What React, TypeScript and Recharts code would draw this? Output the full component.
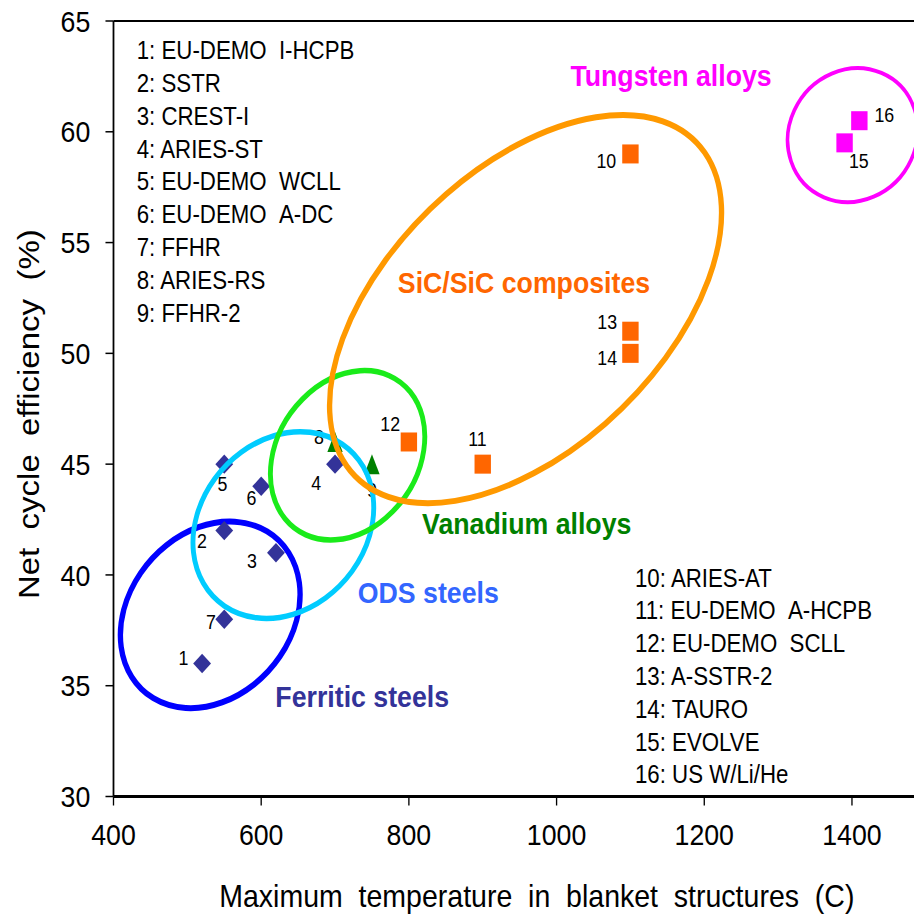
import React from "react";
import {
  ScatterChart,
  Scatter,
  XAxis,
  YAxis,
  ReferenceLine,
  ReferenceDot,
} from "recharts";

// ---------------- data ----------------
const ferriticIds = [1, 2, 3, 4, 5, 6, 7];
const ferriticTemp = [520, 550, 620, 700, 550, 600, 550];
const ferriticEff = [36, 42, 41, 45, 45, 44, 38];

const vanadiumIds = [8, 9];
const vanadiumTemp = [700, 750];
const vanadiumEff = [46, 45];

const sicIds = [10, 11, 12, 13, 14];
const sicTemp = [1100, 900, 800, 1100, 1100];
const sicEff = [59, 45, 46, 51, 50];

const tungstenIds = [15, 16];
const tungstenTemp = [1390, 1410];
const tungstenEff = [59.5, 60.5];

const xTicks = [400, 600, 800, 1000, 1200, 1400];
const yTicks = [30, 35, 40, 45, 50, 55, 60, 65];

const legendLeft = [
  "1: EU-DEMO  I-HCPB",
  "2: SSTR",
  "3: CREST-I",
  "4: ARIES-ST",
  "5: EU-DEMO  WCLL",
  "6: EU-DEMO  A-DC",
  "7: FFHR",
  "8: ARIES-RS",
  "9: FFHR-2",
];
const legendRight = [
  "10: ARIES-AT",
  "11: EU-DEMO  A-HCPB",
  "12: EU-DEMO  SCLL",
  "13: A-SSTR-2",
  "14: TAURO",
  "15: EVOLVE",
  "16: US W/Li/He",
];

const groupNames = [
  "Ferritic steels",
  "ODS steels",
  "Vanadium alloys",
  "SiC/SiC composites",
  "Tungsten alloys",
];
const groupCenterTemp = [531, 630, 717, 958, 1401];
const groupCenterEff = [38.2, 42.25, 45.4, 52.0, 59.85];

const xTitle = "Maximum  temperature  in  blanket  structures  (C)";
const yTitle = "Net  cycle  efficiency  (%)";

// ---------------- styles / layout ----------------
const W = 1026;
const H = 914;
const SX = 914 / W;
const FONT = "'Liberation Sans', Arial, Helvetica, sans-serif";

const keepSpaces = (s: string) => s.replace(/ {2}/g, " \u00A0");

const ringStyles = [
  { rx: 107.8, ry: 85.2, angle: -35.2, color: "#0000FF", width: 6 },
  { rx: 107, ry: 86.9, angle: -33, color: "#00CCFF", width: 5.5 },
  { rx: 94.7, ry: 75.6, angle: -42, color: "#1AEB1A", width: 5.5 },
  { rx: 254.8, ry: 145.4, angle: -37.9, color: "#FF9900", width: 6 },
  { rx: 74, ry: 65.9, angle: -20.9, color: "#FF00FF", width: 4 },
];

const groupLabelStyles = [
  { x: 406.6, y: 706.7, color: "#333399" },
  { x: 480.8, y: 603.3, color: "#3366FF" },
  { x: 591.3, y: 534.3, color: "#008000" },
  { x: 588.2, y: 293, color: "#FF6600" },
  { x: 753.3, y: 86, color: "#FF00FF" },
];

const labelOffset: Record<number, [number, number]> = {
  1: [-21, -6],
  2: [-25, 10],
  3: [-27, 8],
  4: [-21, 19],
  5: [-2, 20],
  6: [-11, 12],
  7: [-15, 3],
  8: [-18, -5],
  9: [0, 26],
  10: [-27, 7],
  11: [-6, -25],
  12: [-21, -18],
  13: [-26, -9],
  14: [-26, 5],
  15: [16, 18],
  16: [28, -6],
};

const build = (ids: number[], xs: number[], ys: number[]) =>
  ids.map((id, i) => ({ id, x: xs[i], y: ys[i] }));

const ferriticData = build(ferriticIds, ferriticTemp, ferriticEff);
const vanadiumData = build(vanadiumIds, vanadiumTemp, vanadiumEff);
const sicData = build(sicIds, sicTemp, sicEff);
const tungstenData = build(tungstenIds, tungstenTemp, tungstenEff);

const pointLabel = (cx: number, cy: number, id: number) => {
  const [dx, dy] = labelOffset[id] || [0, 0];
  return (
    <text
      x={cx + dx}
      y={cy + dy}
      dy="0.35em"
      textAnchor="middle"
      fontSize={20}
      fontFamily={FONT}
      fill="#000"
    >
      {id}
    </text>
  );
};

const makeShape = (kind: "diamond" | "triangle" | "square", color: string) =>
  (props: any) => {
    const { cx, cy, payload } = props;
    if (cx == null || cy == null) return <g />;
    let mark;
    if (kind === "diamond") {
      const hw = 10, hh = 9.7;
      mark = (
        <path
          d={`M${cx},${cy - hh}L${cx + hw},${cy}L${cx},${cy + hh}L${cx - hw},${cy}Z`}
          fill={color}
        />
      );
    } else if (kind === "triangle") {
      const hw = 8.6, hh = 10;
      mark = (
        <path
          d={`M${cx},${cy - hh}L${cx + hw},${cy + hh}L${cx - hw},${cy + hh}Z`}
          fill={color}
        />
      );
    } else {
      const hw = 9.2, hh = 9.5;
      mark = <rect x={cx - hw} y={cy - hh} width={hw * 2} height={hh * 2} fill={color} />;
    }
    return (
      <g>
        {mark}
        {pointLabel(cx, cy, payload.id)}
      </g>
    );
  };

const ringShape = (idx: number) => (props: any) => {
  const { cx, cy } = props;
  const s = ringStyles[idx];
  if (cx == null || cy == null) return <g />;
  return (
    <ellipse
      cx={cx}
      cy={cy}
      rx={s.rx}
      ry={s.ry}
      transform={`rotate(${s.angle} ${cx} ${cy})`}
      fill="none"
      stroke={s.color}
      strokeWidth={s.width}
    />
  );
};

const tickStyle = { fontSize: 30, fill: "#000", fontFamily: FONT };

export default function App() {
  return (
    <div>
      <style>{`body{margin:0;overflow:hidden;background:#fff}`}</style>
      <div
        style={{
          position: "absolute",
          left: 0,
          top: 0,
          width: W,
          height: H,
          transform: `scaleX(${SX})`,
          transformOrigin: "0 0",
          background: "#fff",
        }}
      >
        <ScatterChart
          width={W}
          height={H}
          margin={{ top: 21, right: 0, bottom: 57.5, left: 0 }}
        >
          <XAxis
            type="number"
            dataKey="x"
            domain={[400, 1484]}
            ticks={xTicks}
            allowDataOverflow
            height={60}
            tick={tickStyle}
            tickSize={9}
            tickMargin={18}
            axisLine={{ stroke: "#000", strokeWidth: 3 }}
            tickLine={{ stroke: "#000", strokeWidth: 1.5 }}
          />
          <YAxis
            type="number"
            dataKey="y"
            domain={[30, 65]}
            ticks={yTicks}
            allowDataOverflow
            width={127.4}
            tick={tickStyle}
            tickSize={9}
            tickMargin={17}
            axisLine={{ stroke: "#000", strokeWidth: 2 }}
            tickLine={{ stroke: "#000", strokeWidth: 1.5 }}
          />
          <ReferenceLine y={65} stroke="#000" strokeWidth={2} />
          <ReferenceDot
            x={groupCenterTemp[0]}
            y={groupCenterEff[0]}
            r={1}
            shape={ringShape(0)}
          />
          <Scatter
            data={ferriticData}
            isAnimationActive={false}
            shape={makeShape("diamond", "#333399")}
          />
          <Scatter
            data={vanadiumData}
            isAnimationActive={false}
            shape={makeShape("triangle", "#008000")}
          />
          <Scatter
            data={sicData}
            isAnimationActive={false}
            shape={makeShape("square", "#FF6600")}
          />
          <Scatter
            data={tungstenData}
            isAnimationActive={false}
            shape={makeShape("square", "#FF00FF")}
          />
          {[1, 2, 3, 4].map((i) => (
            <ReferenceDot
              key={i}
              x={groupCenterTemp[i]}
              y={groupCenterEff[i]}
              r={1}
              shape={ringShape(i)}
            />
          ))}
        </ScatterChart>
        <svg
          width={W}
          height={H}
          style={{ position: "absolute", left: 0, top: 0, pointerEvents: "none" }}
        >
          <g fontFamily={FONT} fill="#000">
            {legendLeft.map((t, i) => (
              <text key={t} x={153.5} y={59.3 + 32.8 * i} fontSize={25}>
                {keepSpaces(t)}
              </text>
            ))}
            {legendRight.map((t, i) => (
              <text key={t} x={712.8} y={586.7 + 32.8 * i} fontSize={25}>
                {keepSpaces(t)}
              </text>
            ))}
            {groupNames.map((n, i) => (
              <text
                key={n}
                x={groupLabelStyles[i].x}
                y={groupLabelStyles[i].y}
                fontSize={30}
                fontWeight="bold"
                textAnchor="middle"
                fill={groupLabelStyles[i].color}
              >
                {n}
              </text>
            ))}
            <text x={602.6} y={906.7} fontSize={32} textAnchor="middle">
              {keepSpaces(xTitle)}
            </text>
            <text
              x={44.1}
              y={414.2}
              fontSize={33}
              textAnchor="middle"
              transform="rotate(-90 44.1 414.2)"
            >
              {keepSpaces(yTitle)}
            </text>
          </g>
        </svg>
      </div>
    </div>
  );
}
